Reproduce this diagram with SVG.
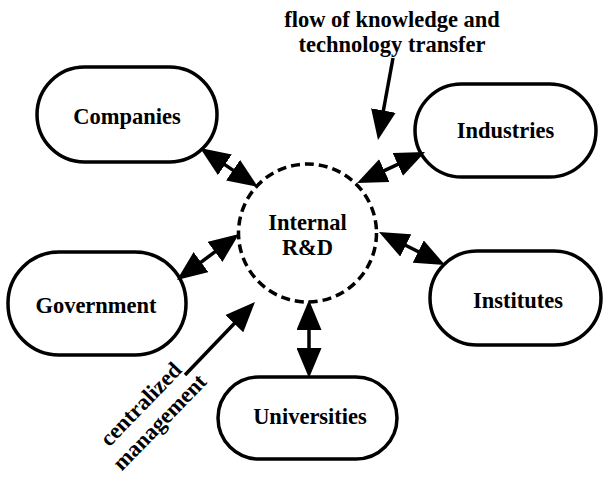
<svg xmlns="http://www.w3.org/2000/svg" width="603" height="478" viewBox="0 0 603 478">
<style>
.node{fill:#fff;stroke:#000;stroke-width:3.5}
.hub{fill:#fff;stroke:#000;stroke-width:3.5;stroke-dasharray:9 5}
.lbl{font-family:"Liberation Serif","Times New Roman",serif;font-weight:bold;font-size:22.5px;fill:#000;text-anchor:middle}
.conn{stroke:#000;stroke-width:3.5;fill:none}
</style>
<defs>
<marker id="ah" viewBox="0 0 30 25" refX="15" refY="12.5" markerWidth="30" markerHeight="25" markerUnits="userSpaceOnUse" orient="auto-start-reverse">
<path d="M0,0 L30,12.5 L0,25 z" fill="#000"/>
</marker>
</defs>
<rect width="603" height="478" fill="#fff"/>
<g id="companies"><rect class="node" x="37" y="67" width="180" height="95" rx="47.5"/><text class="lbl" x="127" y="124">Companies</text></g>
<g id="industries"><rect class="node" x="415" y="84" width="181" height="93" rx="46.5"/><text class="lbl" x="505.5" y="138">Industries</text></g>
<g id="government"><rect class="node" x="8" y="252" width="178" height="103" rx="51"/><text class="lbl" x="96" y="313">Government</text></g>
<g id="institutes"><rect class="node" x="430" y="251" width="171" height="94" rx="47"/><text class="lbl" x="518" y="308">Institutes</text></g>
<g id="universities"><rect class="node" x="218" y="377" width="179" height="82" rx="41"/><text class="lbl" x="310" y="424">Universities</text></g>
<g id="internal-rd"><circle class="hub" cx="307.5" cy="233" r="69"/><text class="lbl" x="307.5" y="230">Internal</text><text class="lbl" x="307.5" y="255">R&amp;D</text></g>
<g id="connectors">
<line class="conn" x1="212.5" y1="156.4" x2="245.5" y2="178.6" marker-start="url(#ah)" marker-end="url(#ah)"/>
<line class="conn" x1="411.4" y1="158.2" x2="370.7" y2="176.8" marker-start="url(#ah)" marker-end="url(#ah)"/>
<line class="conn" x1="189" y1="271.1" x2="227" y2="242.9" marker-start="url(#ah)" marker-end="url(#ah)"/>
<line class="conn" x1="431.6" y1="258.3" x2="392.4" y2="238.7" marker-start="url(#ah)" marker-end="url(#ah)"/>
<line class="conn" x1="309" y1="363" x2="309" y2="315" marker-start="url(#ah)" marker-end="url(#ah)"/>
<line class="conn" x1="393" y1="58" x2="380.7" y2="125.3" marker-end="url(#ah)"/>
<line class="conn" x1="185" y1="375" x2="244.6" y2="312.8" marker-end="url(#ah)"/>
</g>
<g id="annotations">
<text class="lbl" x="392" y="27">flow of knowledge and</text>
<text class="lbl" x="392" y="52">technology transfer</text>
<g transform="translate(149,412) rotate(-46)"><text class="lbl" x="0" y="-4">centralized</text><text class="lbl" x="0" y="22">management</text></g>
</g>
</svg>
